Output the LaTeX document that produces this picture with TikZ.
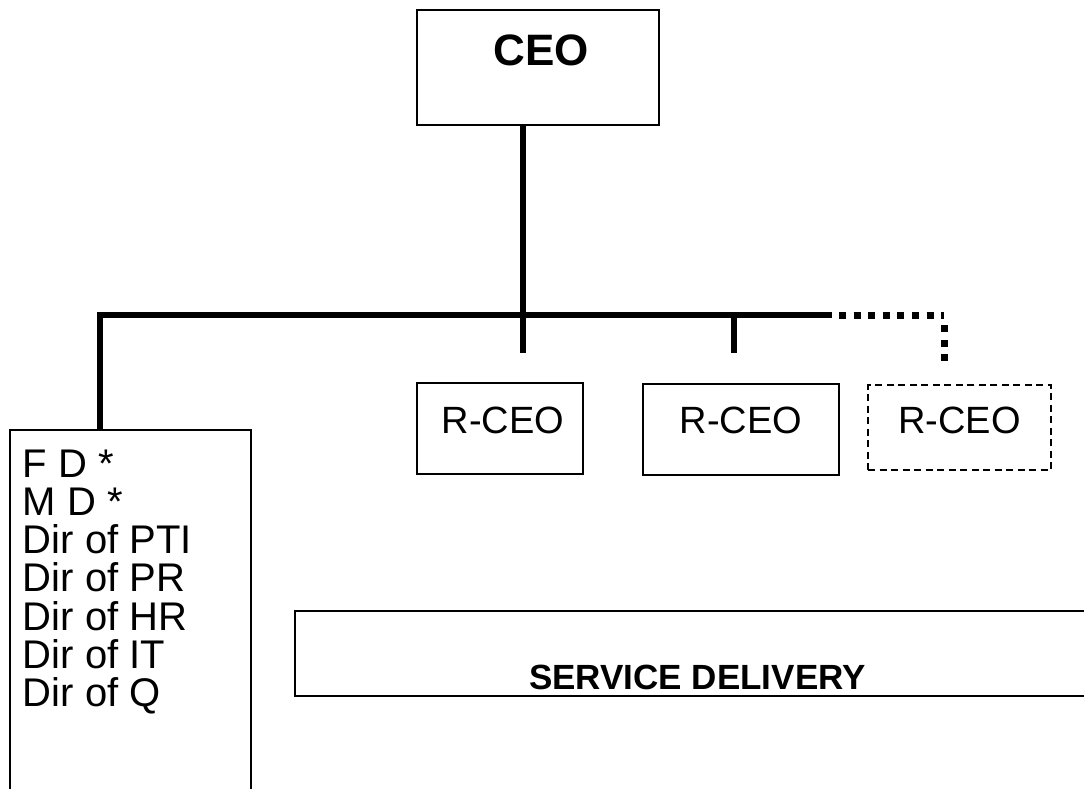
\documentclass[tikz,border=0pt]{standalone}
\usepackage{fontspec}
\setmainfont{Liberation Sans}
\begin{document}
\begin{tikzpicture}[x=1pt,y=-1pt,
  box/.style={draw=black, line width=2pt, inner xsep=0pt, inner ysep=0pt, rectangle},
  conn/.style={draw=black, line width=6pt, line cap=butt, line join=miter},
  dotconn/.style={draw=black, line width=7pt, line cap=butt, dash pattern=on 7pt off 7.6pt},
  rfont/.style={font=\fontsize{38}{40}\selectfont}]
\useasboundingbox (0,0) rectangle (1084,788);
\clip (0,0) rectangle (1084,788);

% top of the chart
\node[box, minimum width=242pt, text height=55pt, text depth=60pt,
      font=\fontsize{44}{48}\selectfont\bfseries] (ceo) at (538,67.5) {\hspace*{6pt}CEO};

% regional boxes
\node[box, rfont, minimum width=166pt, text height=50pt, text depth=41pt] (r1) at (500,428.5) {\hspace*{6pt}R-CEO};
\node[box, rfont, minimum width=196pt, text height=49pt, text depth=42pt] (r2) at (741,429.5) {R-CEO};
\node[box, rfont, dash pattern=on 7pt off 4.5pt, minimum width=183pt, text height=48pt, text depth=37pt] (r3) at (959.5,427.5) {R-CEO};

% central directorates
\node[box, anchor=north west, inner xsep=13pt, text height=47pt, text depth=400pt] (staff) at (9,429)
  {\parbox[t]{215pt}{\fontsize{40}{38.3}\selectfont
   F D *\\
   M D *\\
   Dir of PTI\\
   Dir of PR\\
   Dir of HR\\
   Dir of IT\\
   Dir of Q}};

% service delivery band
\node[box, line width=2.5pt, minimum width=805pt, text height=78pt, text depth=7pt,
      font=\fontsize{35}{38}\selectfont\bfseries] (sd) at (697.5,653.5) {SERVICE DELIVERY};

% junction points of the reporting lines
\coordinate (lj) at (100,315);
\coordinate (cj) at (523,315);
\coordinate (cs) at (523,353);
\coordinate (mj) at (734,315);
\coordinate (ms) at (734,353);
\coordinate (se) at (832,315);
\coordinate (ds) at (839,315);
\coordinate (rj) at (944,315);
\coordinate (rt) at (944,325);
\coordinate (rs) at (944,362);

% reporting lines
\draw[conn] (cj |- ceo.south) -- (cs);
\draw[conn] (lj |- staff.north) -- (lj) -- (se);
\draw[conn] (mj) -- (ms);
\draw[dotconn] (ds) -- (rj);
\draw[dotconn] (rt) -- (rs);
\end{tikzpicture}
\end{document}
